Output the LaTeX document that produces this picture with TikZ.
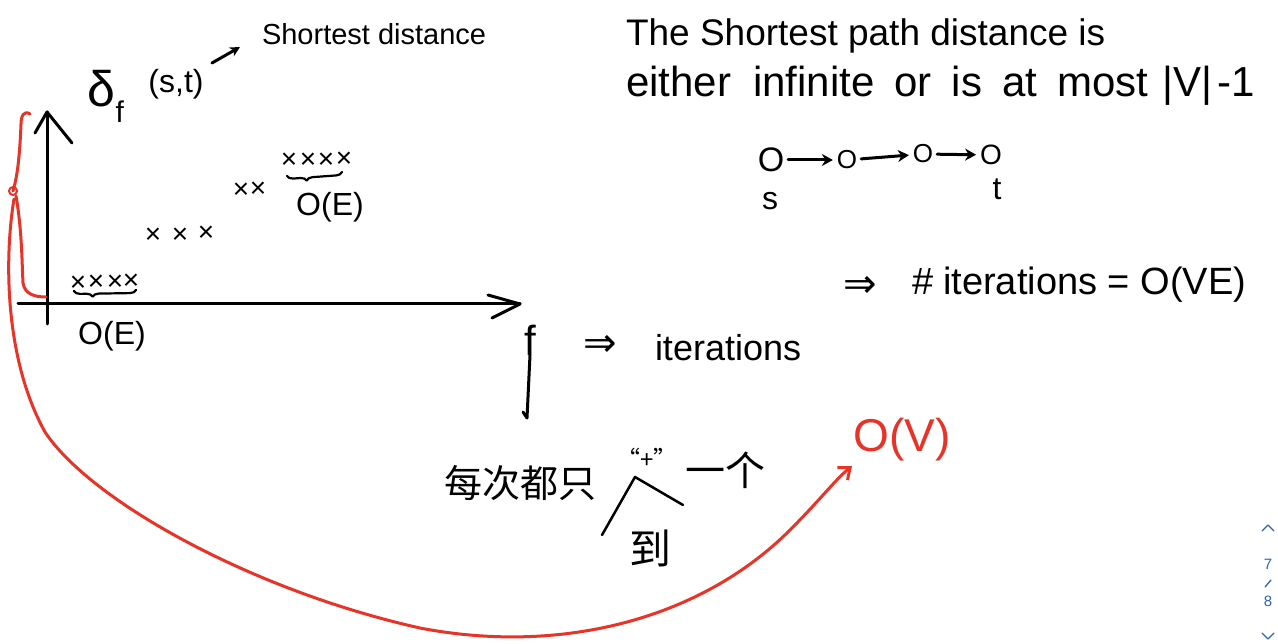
\documentclass[tikz,border=0pt]{standalone}
\usepackage{fontspec}
\setmainfont{Liberation Sans}
\newfontfamily\cjk{Noto Sans CJK SC}
\newfontfamily\dejavu{DejaVu Sans}
\usetikzlibrary{arrows.meta,decorations.pathreplacing}
\definecolor{penred}{RGB}{232,52,40}
\definecolor{pageblue}{RGB}{45,100,180}
\begin{document}
\begin{tikzpicture}[x=1pt,y=-1pt, line cap=round, line join=round,
  ink/.style={line width=3pt, black},
  redink/.style={line width=3pt, color=penred},
  hw/.style={inner sep=0pt, outer sep=0pt, anchor=center},
  xmark/.style={hw, font=\fontsize{28}{28}\selectfont},
  brc/.style={line width=2.2pt, decorate, decoration={brace, mirror, amplitude=6pt}},
]
\useasboundingbox (0,0) rectangle (1278,644);
\fill[white] (0,0) rectangle (1278,644);

% ---- top-left labels
\node[hw, anchor=west, font=\fontsize{29}{29}\selectfont] (sd) at (262,34) {Shortest distance};
\node[hw, font=\fontsize{50}{50}\selectfont] (delta) at (106,96) {δ\raisebox{-16pt}{\fontsize{30}{30}\selectfont f}};
\node[hw, font=\fontsize{32}{32}\selectfont] (args) at (176,84) {(s,t)};
\coordinate (da) at (212,63);
\coordinate (sa) at (240,47);
\draw[ink, -{Stealth[length=10pt,width=10pt]}] (da) -- (sa);

% ---- axes
\coordinate (yb) at (47,324);
\coordinate (yt) at (47,112);
\coordinate (xl) at (18,304);
\coordinate (xr) at (520,304);
\draw[ink] (yb) -- (yt);
\draw[ink] (35,133) -- (yt) -- (72,143);
\draw[ink] (xl) -- (xr);
\draw[ink] (488,295) -- (xr) -- (492,318);

% ---- crosses
\node[xmark] (c1) at (78,284) {×};
\node[xmark] (c2) at (96,283) {×};
\node[xmark] (c3) at (115,283) {×};
\node[xmark] (c4) at (131,282) {×};
\node[xmark] (c5) at (153,236) {×};
\node[xmark] (c6) at (180,236) {×};
\node[xmark] (c7) at (206,234) {×};
\node[xmark] (c8) at (241,191) {×};
\node[xmark] (c9) at (258,190) {×};
\node[xmark] (c10) at (289,161) {×};
\node[xmark] (c11) at (308,161) {×};
\node[xmark] (c12) at (326,161) {×};
\node[xmark] (c13) at (344,160) {×};

% ---- braces and O(E)
\coordinate (b1a) at (74,291);
\coordinate (b1b) at (136,290);
\draw[brc, decoration={aspect=0.3}] (b1a) -- (b1b);
\node[hw, font=\fontsize{32}{32}\selectfont] (oe1) at (112,336) {O(E)};
\coordinate (b2a) at (287,176);
\coordinate (b2b) at (342,172);
\draw[brc, decoration={aspect=0.35}] (b2a) -- (b2b);
\node[hw, font=\fontsize{32}{32}\selectfont] (oe2) at (330,207) {O(E)};

% ---- f => iterations
\node[hw, font=\fontsize{42}{42}\selectfont] (f) at (530,340) {f};
\coordinate (fend) at (527,418);
\draw[ink] (f.south) -- (fend) -- (523,412);
\node[hw, font=\dejavu\fontsize{40}{40}\selectfont] (imp1) at (600,346) {⇒};
\node[hw, anchor=west, font=\fontsize{36}{36}\selectfont] (iter) at (655,348) {iterations};

% ---- Chinese note
\node[hw, font=\cjk\fontsize{38}{38}\selectfont] (cn1) at (520,483) {每次都只};
\node[hw, font=\cjk\fontsize{24}{24}\selectfont] (plus) at (647,458) {“+”};
\node[hw, font=\cjk\fontsize{40}{40}\selectfont] (cn2) at (725,470) {一个};
\coordinate (ca) at (602,535);
\coordinate (cb) at (635,477);
\coordinate (cc) at (683,505);
\draw[line width=2.5pt] (ca) -- (cb) -- (cc);
\node[hw, font=\cjk\fontsize{42}{42}\selectfont] (dao) at (650,548) {到};

% ---- right top text
\node[hw, anchor=west, font=\fontsize{37}{37}\selectfont] (l1) at (626,36) {The Shortest path distance is};
\node[hw, anchor=west, font=\fontsize{42}{42}\selectfont] (l2) at (626,86) {either\hspace{22pt}infinite\hspace{20pt}or\hspace{20pt}is\hspace{20pt}at\hspace{20pt}most\hspace{14pt}|V|\hspace{6pt}-1};

% ---- path s -> t
\node[hw, outer sep=4pt, font=\fontsize{34}{34}\selectfont] (p1) at (771,160) {O};
\node[hw, outer sep=4pt, font=\fontsize{26}{26}\selectfont] (p2) at (847,160) {O};
\node[hw, outer sep=4pt, font=\fontsize{26}{26}\selectfont] (p3) at (923,154) {O};
\node[hw, outer sep=4pt, font=\fontsize{28}{28}\selectfont] (p4) at (991,155) {O};
\draw[ink, -{Stealth[length=11pt,width=12pt]}] (p1) -- (p2);
\draw[ink, -{Stealth[length=11pt,width=12pt]}] (p2) -- (p3);
\draw[ink, -{Stealth[length=11pt,width=12pt]}] (p3) -- (p4);
\node[hw, font=\fontsize{32}{32}\selectfont] (s) at (770,201) {s};
\node[hw, font=\fontsize{32}{32}\selectfont] (t) at (997,189) {t};

% ---- => # iterations = O(VE)
\node[hw, font=\dejavu\fontsize{40}{40}\selectfont] (imp2) at (860,287) {⇒};
\node[hw, anchor=west, font=\fontsize{38}{38}\selectfont] (iter2) at (912,285) {\#\hspace{10pt}iterations = O(VE)};

% ---- red brace and arrow
\coordinate (rtop) at (30,114);
\coordinate (rloop) at (13,191);
\coordinate (rbot) at (46,297);
\coordinate (rend) at (852,466);
\draw[redink] (rtop) .. controls (24,110) and (21,116) .. (21,124)
  .. controls (20,150) and (18,175) .. (rloop);
\draw[redink, line width=2pt] (rloop) circle (4);
\draw[redink] (16,196) .. controls (22,230) and (22,265) .. (23,283)
  .. controls (25,295) and (36,297) .. (rbot);
\draw[redink, -{Straight Barb[length=10pt,width=16pt,line width=3pt]}]
  (14,199) .. controls (4,260) and (5,360) .. (45,432)
  .. controls (90,500) and (250,590) .. (420,628)
  .. controls (560,655) and (700,620) .. (790,530)
  .. controls (820,500) and (835,480) .. (rend);
\node[hw, text=penred, font=\fontsize{46}{46}\selectfont] (ov) at (902,440) {O(V)};

% ---- page indicator
\draw[pageblue, line width=1.3pt] (1262,531) -- (1268,525) -- (1274,531);
\node[hw, text=pageblue, font=\fontsize{15}{15}\selectfont] (pg7) at (1268,564) {7};
\draw[pageblue, line width=1.3pt] (1265,587) -- (1271,580);
\node[hw, text=pageblue, font=\fontsize{15}{15}\selectfont] (pg8) at (1268,601) {8};
\draw[pageblue, line width=1.3pt] (1262,633) -- (1268,639) -- (1274,633);
\end{tikzpicture}
\end{document}
